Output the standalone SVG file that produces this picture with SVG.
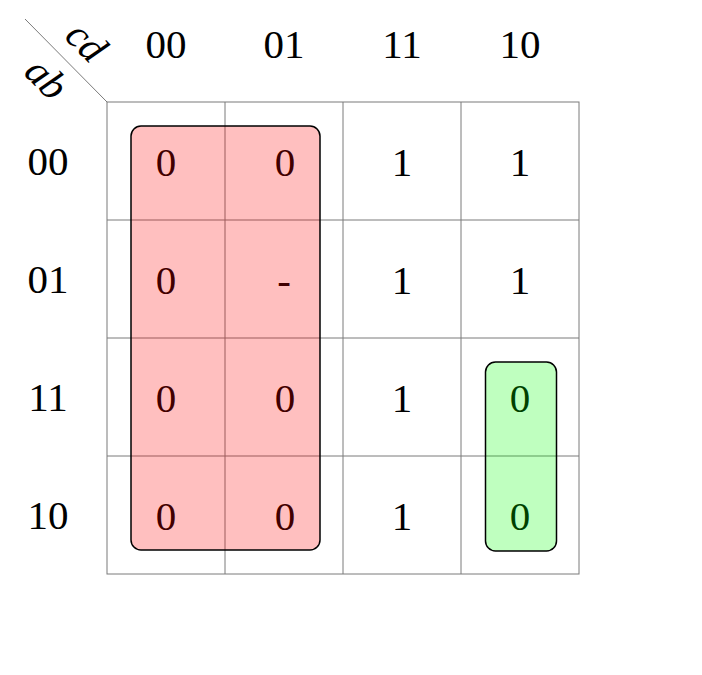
<svg xmlns="http://www.w3.org/2000/svg" width="702" height="675" viewBox="0 0 702 675">
<style>
.g{stroke:#7a7a7a;stroke-width:1;fill:none}
.t{font-family:"Liberation Serif","DejaVu Serif",serif;font-size:41px;fill:#000;text-anchor:middle}
.i{font-style:italic}
.red{fill:#ff0000;fill-opacity:0.25;stroke:#000;stroke-width:1.5}
.grn{fill:#00ff00;fill-opacity:0.25;stroke:#000;stroke-width:1.5}
</style>
<rect width="702" height="675" fill="#fff"/>
<g id="grid">
<line class="g" x1="25" y1="19" x2="107" y2="102"/>
<rect class="g" x="107" y="102" width="472" height="472"/>
<line class="g" x1="225" y1="102" x2="225" y2="574"/>
<line class="g" x1="343" y1="102" x2="343" y2="574"/>
<line class="g" x1="461" y1="102" x2="461" y2="574"/>
<line class="g" x1="107" y1="220" x2="579" y2="220"/>
<line class="g" x1="107" y1="338" x2="579" y2="338"/>
<line class="g" x1="107" y1="456" x2="579" y2="456"/>
</g>
<g id="axis-labels">
<text class="t i" transform="translate(84,44) rotate(45)" y="10">cd</text>
<text class="t i" transform="translate(44,81) rotate(45)" y="10">ab</text>
</g>
<g id="col-headers">
<text class="t" x="166" y="58">00</text>
<text class="t" x="284" y="58">01</text>
<text class="t" x="402" y="58">11</text>
<text class="t" x="520" y="58">10</text>
</g>
<g id="row-headers">
<text class="t" x="48" y="175">00</text>
<text class="t" x="48" y="293">01</text>
<text class="t" x="48" y="411">11</text>
<text class="t" x="48" y="529">10</text>
</g>
<g id="cells">
<text class="t" x="166" y="176">0</text>
<text class="t" x="285" y="176">0</text>
<text class="t" x="402" y="176">1</text>
<text class="t" x="520" y="176">1</text>
<text class="t" x="166" y="294">0</text>
<text class="t" x="284" y="294">-</text>
<text class="t" x="402" y="294">1</text>
<text class="t" x="520" y="294">1</text>
<text class="t" x="166" y="412">0</text>
<text class="t" x="285" y="412">0</text>
<text class="t" x="402" y="412">1</text>
<text class="t" x="520" y="412">0</text>
<text class="t" x="166" y="530">0</text>
<text class="t" x="285" y="530">0</text>
<text class="t" x="402" y="530">1</text>
<text class="t" x="520" y="530">0</text>
</g>
<g id="group-red">
<rect class="red" x="131" y="126" width="189" height="424" rx="10" ry="10"/>
</g>
<g id="group-green">
<rect class="grn" x="485.5" y="362" width="71" height="189" rx="10" ry="10"/>
</g>
</svg>
